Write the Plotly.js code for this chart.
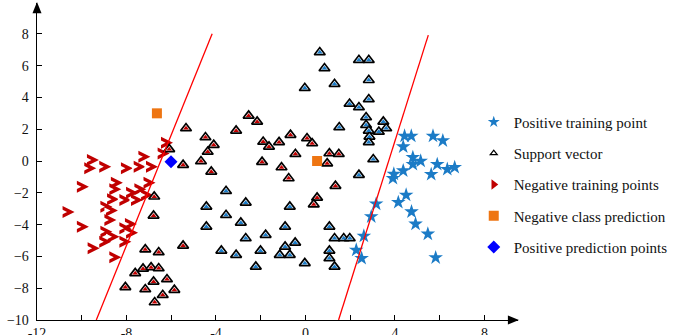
<!DOCTYPE html>
<html>
<head>
<meta charset="utf-8">
<script src="https://cdn.plot.ly/plotly-3.0.1.min.js"></script>
<style>html,body{margin:0;padding:0;background:#fff;}#chart{width:689px;height:335px;}</style>
</head>
<body>
<div id="chart"></div>
<script>
// Positive training points (blue stars)
var posX = [4.43,4.73,5.70,6.14,4.37,4.80,5.15,4.80,5.89,6.34,6.67,4.37,3.95,3.91,5.62,4.50,4.15,3.16,2.94,4.74,4.92,5.47,2.61,2.27,2.51,5.82];
var posY = [1.57,1.57,1.57,1.28,0.90,0.23,0.00,-0.21,-0.21,-0.52,-0.40,-0.61,-0.82,-1.09,-0.84,-2.14,-2.60,-2.70,-3.50,-3.19,-3.96,-4.59,-4.72,-5.60,-6.12,-6.08];

// Negative training points (red chevrons)
var negX = [-6.19,-6.34,-7.20,-9.50,-9.62,-8.95,-7.98,-7.41,-6.86,-9.95,-8.43,-8.50,-6.97,-7.38,-7.75,-7.08,-8.60,-8.05,-7.53,-8.90,-8.65,-10.59,-8.72,-7.80,-9.95,-8.05,-8.90,-7.75,-8.58,-8.95,-8.05,-9.47,-8.50];
var negY = [1.15,0.48,0.27,0.06,-0.46,-0.36,-0.46,-0.36,-0.36,-1.62,-1.36,-1.78,-1.36,-1.78,-1.99,-2.14,-2.41,-2.45,-2.45,-2.87,-3.12,-3.20,-3.71,-3.96,-4.13,-4.23,-4.45,-4.51,-4.76,-5.08,-5.08,-5.49,-6.06];

// Support vectors belonging to the negative class
var svNegX = [-5.34,-6.09,-5.47,-4.67,-6.76,-6.79,-5.47,-7.16,-6.56,-7.61,-7.26,-6.90,-6.56,-6.79,-6.19,-8.05,-7.16,-6.38,-5.86,-6.74,
              -2.54,-2.16,-4.47,-4.10,-4.37,-3.10,-1.89,-1.63,-1.18,-0.67,0.07,0.30,-0.45,1.07,1.49,0.97,-1.94,-4.21,-1.07,-0.75,1.34,0.52,0.37];
var svNegY = [2.06,0.74,-0.25,-0.02,-2.24,-3.44,-5.33,-5.56,-5.74,-7.06,-6.77,-6.69,-6.75,-7.59,-7.44,-7.94,-8.07,-8.43,-8.11,-8.89,
              2.85,2.47,1.49,1.01,0.58,1.91,1.21,0.90,1.18,1.64,1.43,1.11,0.44,0.48,0.44,-0.15,-0.06,-0.67,-0.40,-1.09,-1.57,-2.31,-2.73];

// Support vectors belonging to the positive class
var svPosX = [0.64,0.85,2.39,2.83,1.30,-0.03,2.83,2.83,1.97,2.39,2.71,3.48,2.71,1.51,3.28,3.61,2.83,2.86,2.83,3.03,2.39,
              -3.55,-4.43,-2.67,-0.70,-3.55,-4.43,-2.89,-0.91,1.07,-2.67,-1.78,-0.91,-0.46,1.30,1.71,1.98,-3.76,-3.10,-2.01,-1.15,-0.70,1.07,1.07,-2.22,-0.03,1.30];
var svPosY = [6.84,5.83,6.35,6.35,4.84,4.59,5.09,3.88,3.60,3.38,2.75,2.47,2.26,2.12,1.84,2.06,1.91,1.53,1.18,0.11,-0.88,
              -1.89,-2.87,-2.62,-2.87,-3.40,-4.13,-3.88,-4.13,-4.13,-4.86,-4.65,-5.39,-5.14,-4.86,-4.86,-4.86,-5.64,-5.91,-5.64,-5.91,-5.91,-5.64,-6.12,-6.65,-6.43,-6.65];

// Predictions
var negPredX = [-6.64, 0.52];
var negPredY = [3.00, 0.00];
var posPredX = [-6.01];
var posPredY = [-0.04];

// Separating boundary lines
var line1X = [-9.35, -4.17];
var line1Y = [-10, 8.0];
var line2X = [1.48, 5.49];
var line2Y = [-10, 7.92];

// Axis ticks
var tickVals = [-12,-10,-8,-6,-4,-2,0,2,4,6,8];
var tickText = ['-12','','-8','','-4','','0','','4','','8'];
var yTickVals = [-10,-8,-6,-4,-2,0,2,4,6,8];

var svAllX = svNegX.concat(svPosX);
var svAllY = svNegY.concat(svPosY);

var starColor = '#1B7BC6';
var negColor = '#C00000';

var data = [];
// legend-only entries (small icons as in the reference legend)
data.push({type:'scatter', mode:'markers', name:'Positive training point', x:[null], y:[null], legendgroup:'g1', legendrank:1,
   marker:{symbol:'star', size:9, color:starColor, line:{width:0}}});
data.push({type:'scatter', mode:'markers', name:'Support vector', x:[null], y:[null], legendgroup:'g2', legendrank:2,
   marker:{symbol:'triangle-up', size:6, color:'#ffffff', line:{width:1.3, color:'#000000'}}});
data.push({type:'scatter', mode:'markers', name:'Negative training points', x:[null], y:[null], legendgroup:'g3', legendrank:3,
   marker:{symbol:'triangle-right', size:9, color:negColor}});

// negative training chevrons: red arrow body + white notch, point by point
for (var i = 0; i < negX.length; i++) {
  data.push({type:'scatter', mode:'markers', x:[negX[i]], y:[negY[i]], showlegend:false, hoverinfo:'skip',
    marker:{symbol:'arrow-down', angle:-90, standoff:6, size:12, color:negColor, line:{width:0}}});
  data.push({type:'scatter', mode:'markers', x:[negX[i]], y:[negY[i]], showlegend:false, hoverinfo:'skip',
    marker:{symbol:'arrow-up', angle:90, standoff:1.5, size:6, color:'#ffffff', line:{width:0}}});
}

data.push({type:'scatter', mode:'markers', x:posX, y:posY, showlegend:false, hoverinfo:'skip',
   marker:{symbol:'star', size:11, color:starColor, line:{width:0}}});
data.push({type:'scatter', mode:'markers', x:svAllX, y:svAllY, showlegend:false, hoverinfo:'skip',
   marker:{symbol:'triangle-up', size:9.5, color:'#ffffff', line:{width:1.7, color:'#000000'}}});
data.push({type:'scatter', mode:'markers', x:svNegX, y:svNegY, showlegend:false, hoverinfo:'skip',
   marker:{symbol:'triangle-up', size:5, color:negColor, line:{width:0}}});
data.push({type:'scatter', mode:'markers', x:svPosX, y:svPosY, showlegend:false, hoverinfo:'skip',
   marker:{symbol:'triangle-up', size:5, color:starColor, line:{width:0}}});
data.push({type:'scatter', mode:'markers', name:'Negative class prediction', x:negPredX, y:negPredY, legendgroup:'g4', legendrank:4,
   marker:{symbol:'square', size:10, color:'#EE7512'}});
data.push({type:'scatter', mode:'markers', name:'Positive prediction points', x:posPredX, y:posPredY, legendgroup:'g5', legendrank:5,
   marker:{symbol:'diamond', size:10, color:'#0000FF'}});
data.push({type:'scatter', mode:'lines', x:line1X, y:line1Y, showlegend:false, hoverinfo:'skip', line:{color:'#FF0000', width:1.3}});
data.push({type:'scatter', mode:'lines', x:line2X, y:line2Y, showlegend:false, hoverinfo:'skip', line:{color:'#FF0000', width:1.3}});

var axFont = {family:'Liberation Serif', size:14, color:'#111'};
var layout = {
  width:689, height:335,
  margin:{l:37, r:171, t:3, b:15, pad:0},
  paper_bgcolor:'#ffffff', plot_bgcolor:'#ffffff',
  showlegend:true,
  xaxis:{range:[-12, 9.5], showgrid:false, zeroline:false, showline:true, linecolor:'#000', linewidth:1.4,
         ticks:'inside', ticklen:5, tickwidth:1, tickcolor:'#000', tickmode:'array', tickvals:tickVals, ticktext:tickText,
         tickfont:axFont, ticklabelstandoff:1.5},
  yaxis:{range:[-10, 9.94], showgrid:false, zeroline:false, showline:true, linecolor:'#000', linewidth:1.4,
         ticks:'inside', ticklen:5, tickwidth:1, tickcolor:'#000', tickmode:'array', tickvals:yTickVals,
         tickfont:axFont, ticklabelstandoff:4},
  legend:{x:0.908, y:0.676, xanchor:'left', yanchor:'top', bgcolor:'rgba(0,0,0,0)', borderwidth:0,
          traceorder:'grouped', tracegroupgap:8.75, font:{family:'Liberation Serif', size:15, color:'#111'}},
  shapes:[
    {type:'path', xref:'paper', yref:'paper', path:'M 0.979 -0.0142 L 1.002 0 L 0.979 0.0142 Z', fillcolor:'#000', line:{width:0}},
    {type:'path', xref:'paper', yref:'paper', path:'M -0.0094 0.968 L 0 1.003 L 0.0094 0.968 Z', fillcolor:'#000', line:{width:0}}
  ]
};

Plotly.newPlot('chart', data, layout, {displayModeBar:false, staticPlot:true});
</script>
</body>
</html>
